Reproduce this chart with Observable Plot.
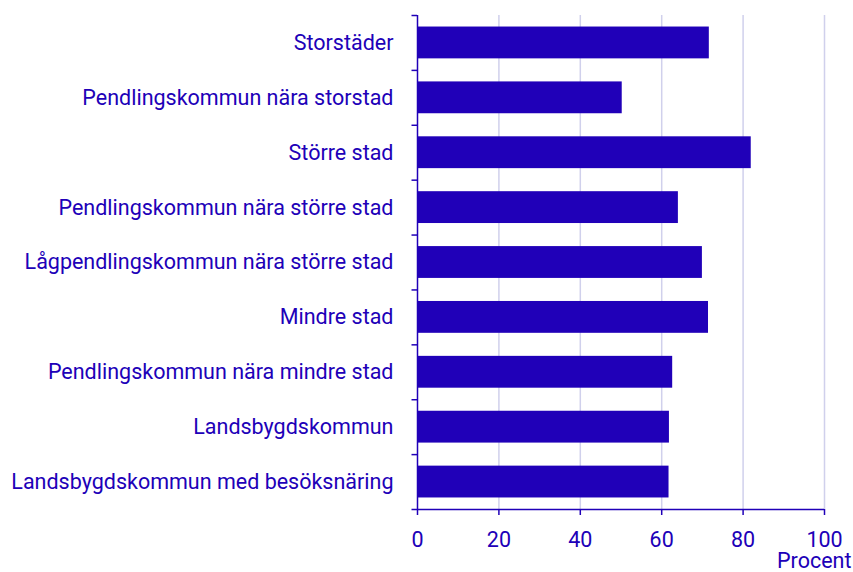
<!DOCTYPE html>
<html>
<head>
<meta charset="utf-8">
<script src="https://cdn.jsdelivr.net/npm/d3@7"></script>
<script src="https://cdn.jsdelivr.net/npm/@observablehq/plot@0.6"></script>
<style>
  html, body { margin: 0; padding: 0; background: white; }
</style>
</head>
<body>
<div id="chart"></div>
<script>
const categories = [
  "Storstäder",
  "Pendlingskommun nära storstad",
  "Större stad",
  "Pendlingskommun nära större stad",
  "Lågpendlingskommun nära större stad",
  "Mindre stad",
  "Pendlingskommun nära mindre stad",
  "Landsbygdskommun",
  "Landsbygdskommun med besöksnäring"
];
const values = [71.7, 50.3, 82.0, 64.1, 70.0, 71.5, 62.7, 61.9, 61.8];
const xTicks = [0, 20, 40, 60, 80, 100];
const gridTicks = [20, 40, 60, 80, 100];
const xLabel = "Procent";

const data = categories.map((c, i) => ({category: c, value: values[i]}));

const W = 853, H = 572, mt = 15, mb = 63, ml = 417, mr = 29;
const step = (H - mt - mb) / categories.length;
const blue = "#2000b8";

const chart = Plot.plot({
  width: W,
  height: H,
  marginTop: mt,
  marginBottom: mb,
  marginLeft: ml,
  marginRight: mr,
  style: {fontFamily: "Roboto, sans-serif", fontSize: "21.5px", color: blue, background: "white", overflow: "visible"},
  x: {domain: [0, 100], ticks: xTicks},
  y: {domain: categories, paddingInner: 0.42, paddingOuter: 0.21, round: false},
  marks: [
    Plot.gridX(gridTicks, {stroke: "#d0d0ec", strokeOpacity: 1, strokeWidth: 1.5}),
    Plot.barX(data, {x: "value", y: "category", fill: blue}),
    Plot.ruleX([0], {stroke: blue, strokeWidth: 1.5}),
    Plot.ruleY(categories, {y: d => d, x1: -1.35, x2: 0, dy: -step / 2, stroke: blue, strokeWidth: 1.5}),
    Plot.ruleY([categories[categories.length - 1]], {y: d => d, x1: -1.35, x2: 100, dy: step / 2, stroke: blue, strokeWidth: 1.5}),
    Plot.axisX({ticks: xTicks, tickSize: 6, tickPadding: 16, label: null, strokeWidth: 1.5}),
    Plot.axisY({tickSize: 0, tickPadding: 24, label: null}),
    Plot.text([xLabel], {text: d => d, frameAnchor: "bottom-right", dx: 27, dy: 58, textAnchor: "end", fill: blue})
  ]
});
document.getElementById("chart").appendChild(chart);
</script>
</body>
</html>
